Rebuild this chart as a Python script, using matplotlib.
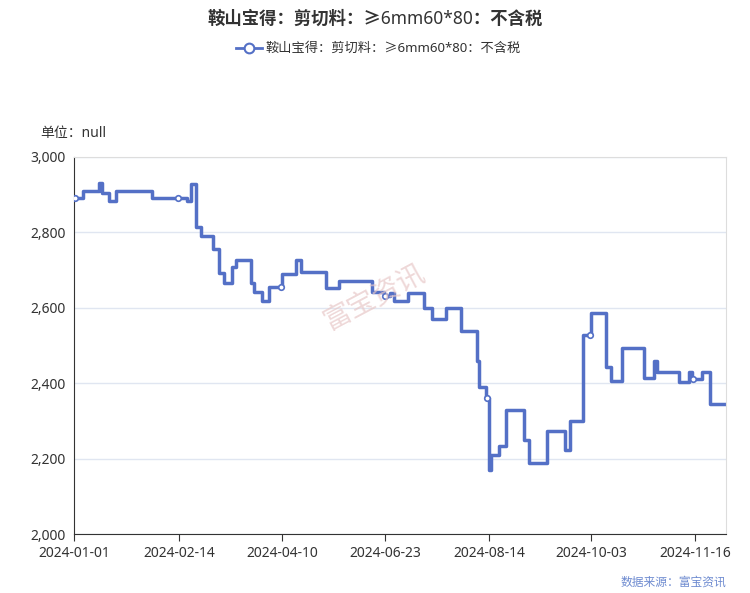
import numpy as np
import matplotlib
matplotlib.use("Agg")
import matplotlib.pyplot as plt

plt.rcParams['font.family'] = ['Noto Sans', 'Noto Sans CJK SC', 'DejaVu Sans']

title = "鞍山宝得：剪切料：≥6mm60*80：不含税"
tick_pos = [0, 105, 208, 311, 415, 517, 621]
tick_labels = ["2024-01-01", "2024-02-14", "2024-04-10", "2024-06-23", "2024-08-14", "2024-10-03", "2024-11-16"]
step_x = [0, 9, 25, 28, 35, 42, 78, 113, 117, 122, 127, 139, 145, 150, 158, 162, 177, 180, 188, 195,
          208, 222, 227, 252, 265, 298, 310, 316, 320, 334, 350, 358, 372, 387, 403, 405, 412, 415, 417,
          425, 432, 450, 455, 473, 491, 496, 509, 517, 532, 537, 548, 570, 580, 583, 605, 615, 618, 628, 636, 652]
step_y = [2890, 2911, 2930, 2904, 2882, 2911, 2890, 2882, 2928, 2815, 2790, 2755, 2693, 2665, 2709, 2727,
          2665, 2643, 2619, 2656, 2690, 2727, 2696, 2652, 2672, 2643, 2632, 2640, 2619, 2638, 2599, 2570,
          2600, 2539, 2460, 2391, 2360, 2170, 2210, 2234, 2329, 2249, 2189, 2273, 2223, 2300, 2528, 2585,
          2444, 2407, 2494, 2413, 2460, 2431, 2404, 2430, 2410, 2431, 2344, 2344]
marker_x = [1, 104, 207, 311, 413, 516, 619]

color = '#5470c6'
fig = plt.figure(figsize=(7.5, 5.93), dpi=100)
ax = fig.add_axes([74/750, 1-534/593, 652/750, 377/593])
ax.plot(step_x, step_y, drawstyle='steps-post', color=color, lw=2.5, solid_joinstyle='round')
idx = np.searchsorted(step_x, marker_x, side='right') - 1
my = [step_y[i] for i in idx]
ax.plot(marker_x, my, 'o', ms=4, mfc='white', mec=color, mew=1.2, zorder=3)

ax.set_xlim(0, 652)
ax.set_ylim(2000, 3000)
ax.set_yticks([2000, 2200, 2400, 2600, 2800, 3000])
ax.set_yticklabels(["2,000", "2,200", "2,400", "2,600", "2,800", "3,000"])
ax.set_xticks(tick_pos)
ax.set_xticklabels(tick_labels)
ax.tick_params(axis='y', length=0, labelsize=10, colors='#333333', pad=6)
ax.tick_params(axis='x', length=5, color='#333333', labelsize=10, colors='#333333')
ax.grid(axis='y', color='#e0e6f1', lw=1)
for s in ['top', 'right']:
    ax.spines[s].set_color('#dddddd')
ax.spines['left'].set_color('#333333')
ax.spines['bottom'].set_color('#333333')

fig.text(0.5, 1-19/593, title, ha='center', va='center', fontsize=12.5, fontweight='bold', color='#333333')
fig.lines.append(plt.Line2D([236/750, 262/750], [1-48/593]*2, color=color, lw=2, transform=fig.transFigure))
fig.lines.append(plt.Line2D([249/750], [1-48/593], marker='o', ms=7, mfc='white', mec=color, mew=1.5, transform=fig.transFigure))
fig.text(266/750, 1-48/593, title, ha='left', va='center', fontsize=9.5, color='#333333')
fig.text(40/750, 1-134/593, "单位：null", ha='left', va='center', fontsize=10, color='#333333')
fig.text(726/750, 1-582/593, "数据来源：富宝资讯", ha='right', va='center', fontsize=8.5, color='#6e8bd0')
fig.text(375/750, 1-298/593, "富宝资讯", ha='center', va='center', fontsize=20, color='#e8c8c8', alpha=0.7, rotation=28)
fig.savefig("out.png", dpi=100, facecolor='white')
